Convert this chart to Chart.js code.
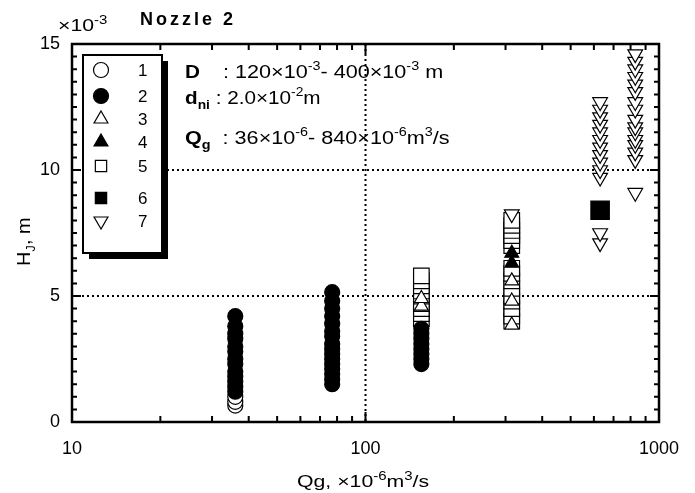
<!DOCTYPE html>
<html lang="en">
<head>
<meta charset="UTF-8">
<title>Nozzle 2 - jet height vs gas flow rate</title>
<script src="https://cdn.jsdelivr.net/npm/chart.js"></script>
<style>
  body { margin: 0; background: #fff; }
  #wrap { width: 695px; height: 493px; }
</style>
</head>
<body>
<div id="wrap"><canvas id="chart" width="695" height="493"></canvas></div>
<script>
// Qg in 1e-6 m3/s, HJ in 1e-3 m, one pair of arrays per legend symbol
const s1Q = [36, 36, 36, 155];
const s1H = [0.65, 0.8, 1.0, 3.85];
const s2Q = [36, 36, 36, 36, 36, 36, 36, 36, 36, 36, 36, 36, 36,
             77, 77, 77, 77, 77, 77, 77, 77, 77, 77, 77, 77, 77, 77, 77, 77,
             155, 155, 155, 155, 155, 155, 155, 155];
const s2H = [1.2, 1.4, 1.6, 1.8, 2.0, 2.3, 2.5, 2.8, 3.0, 3.3, 3.5, 3.8, 4.2,
             1.5, 1.7, 1.9, 2.1, 2.3, 2.5, 2.7, 2.9, 3.1, 3.4, 3.6, 3.9, 4.2, 4.5, 4.8, 5.15,
             2.3, 2.5, 2.7, 2.9, 3.1, 3.3, 3.5, 3.7];
const s3Q = [155, 155, 315, 315, 315];
const s3H = [4.6, 4.9, 3.85, 4.8, 5.6];
const s4Q = [315, 315];
const s4H = [6.3, 6.7];
const s5Q = [155, 155, 155, 155, 155, 155, 155, 155, 155,
             315, 315, 315, 315, 315, 315, 315, 315, 315, 315, 315, 315, 315, 315, 315];
const s5H = [4.1, 4.3, 4.5, 4.7, 5.0, 5.2, 5.4, 5.6, 5.8,
             4.0, 4.2, 4.5, 4.8, 5.0, 5.3, 5.6, 5.9, 6.1, 7.0, 7.2, 7.4, 7.6, 7.8, 8.0];
const s6Q = [630];
const s6H = [8.4];
const s7Q = [315,
             630, 630, 630, 630, 630, 630, 630, 630, 630, 630, 630, 630, 630,
             830, 830, 830, 830, 830, 830, 830, 830, 830, 830, 830, 830, 830, 830, 830, 830];
const s7H = [8.25,
             7.1, 7.5, 9.7, 10.0, 10.3, 10.6, 10.9, 11.2, 11.5, 11.8, 12.1, 12.4, 12.7,
             9.1, 10.4, 10.7, 11.0, 11.2, 11.5, 11.7, 12.0, 12.4, 12.7, 13.1, 13.4, 13.7, 14.0, 14.3, 14.6];

const legendLabels = ['1', '2', '3', '4', '5', '6', '7'];
const xTicks = [10, 100, 1000];
const yTicks = [0, 5, 10, 15];
const gridX = [100];
const gridY = [5, 10];

const FONT = '"Liberation Sans", Arial, sans-serif';

// symbol styles for the seven series
const styles = [
  { pointStyle: 'circle',   fill: '#fff', r: 7.5, rot: 0,   order: 7 },
  { pointStyle: 'circle',   fill: '#000', r: 7.5, rot: 0,   order: 3 },
  { pointStyle: 'triangle', fill: '#fff', r: 8,   rot: 0,   order: 5 },
  { pointStyle: 'triangle', fill: '#000', r: 8,   rot: 0,   order: 1 },
  { pointStyle: 'rect',     fill: '#fff', r: 11,  rot: 0,   order: 6 },
  { pointStyle: 'rect',     fill: '#000', r: 13,  rot: 0,   order: 2 },
  { pointStyle: 'triangle', fill: '#fff', r: 8.5, rot: 180, order: 4 }
];
const seriesQ = [s1Q, s2Q, s3Q, s4Q, s5Q, s6Q, s7Q];
const seriesH = [s1H, s2H, s3H, s4H, s5H, s6H, s7H];

const datasets = legendLabels.map((lab, i) => ({
  label: lab,
  data: seriesQ[i].map((q, j) => ({ x: q, y: seriesH[i][j] })),
  pointStyle: styles[i].pointStyle,
  pointRadius: styles[i].r,
  pointRotation: styles[i].rot,
  pointBackgroundColor: styles[i].fill,
  pointBorderColor: '#000',
  pointBorderWidth: 1.2,
  order: styles[i].order
}));

// text with superscripts / subscripts, sx = horizontal stretch (the scan is wide)
function rich(ctx, x, y, parts, size, sx) {
  sx = sx || 1;
  parts.forEach(([t, k]) => {
    const small = k === 'sup' || k === 'sub' || k === 'bsub';
    const fs = small ? Math.round(size * 0.68) : size;
    const bold = k === 'b' || k === 'bsub';
    ctx.font = (bold ? 'bold ' : '') + fs + 'px ' + FONT;
    const dy = k === 'sup' ? -size * 0.42 : (k === 'sub' || k === 'bsub') ? size * 0.3 : 0;
    ctx.save();
    ctx.translate(x, y + dy);
    ctx.scale(sx, 1);
    ctx.fillText(t, 0, 0);
    ctx.restore();
    x += ctx.measureText(t).width * sx;
  });
}

function marker(ctx, st, x, y) {
  ctx.fillStyle = st.fill;
  ctx.strokeStyle = '#000';
  ctx.lineWidth = 1.2;
  Chart.helpers.drawPoint(ctx, { pointStyle: st.pointStyle, radius: st.r, rotation: st.rot, borderWidth: 1.2 }, x, y);
}

const decorations = {
  id: 'decorations',
  beforeDatasetsDraw(chart) {
    const { ctx, chartArea: a, scales: { x, y } } = chart;
    ctx.save();
    ctx.strokeStyle = '#000';
    ctx.lineWidth = 2;
    ctx.setLineDash([2, 3]);
    gridY.forEach(v => {
      const py = y.getPixelForValue(v);
      ctx.beginPath(); ctx.moveTo(a.left, py); ctx.lineTo(a.right, py); ctx.stroke();
    });
    gridX.forEach(v => {
      const px = x.getPixelForValue(v);
      ctx.beginPath(); ctx.moveTo(px, a.top); ctx.lineTo(px, a.bottom); ctx.stroke();
    });
    ctx.restore();
  },
  afterDatasetsDraw(chart) {
    const { ctx, chartArea: a, scales: { x, y } } = chart;
    ctx.save();
    ctx.strokeStyle = '#000';
    ctx.fillStyle = '#000';

    // frame
    ctx.lineWidth = 2.5;
    ctx.strokeRect(a.left, a.top, a.right - a.left, a.bottom - a.top);

    // inward ticks on y (both sides)
    ctx.lineWidth = 2;
    for (let i = 1; i < 30; i++) {
      const v = i / 2;
      const len = v % 5 === 0 ? 9 : 5;
      const py = y.getPixelForValue(v);
      ctx.beginPath();
      ctx.moveTo(a.left, py); ctx.lineTo(a.left + len, py);
      ctx.moveTo(a.right, py); ctx.lineTo(a.right - len, py);
      ctx.stroke();
    }
    // inward log ticks on x (bottom and top)
    [10, 100].forEach(d => {
      for (let k = 2; k <= 10; k++) {
        const v = k * d;
        if (v >= 1000) continue;
        const len = v === 100 ? 10 : 6;
        const px = x.getPixelForValue(v);
        ctx.beginPath();
        ctx.moveTo(px, a.bottom); ctx.lineTo(px, a.bottom - len);
        ctx.moveTo(px, a.top); ctx.lineTo(px, a.top + len);
        ctx.stroke();
      }
    });

    // legend box with drop shadow
    const lx = 83, ly = 55, lw = 79, lh = 198;
    ctx.fillRect(lx + 6, ly + 6, lw, lh);
    ctx.fillStyle = '#fff';
    ctx.fillRect(lx, ly, lw, lh);
    ctx.lineWidth = 2;
    ctx.strokeRect(lx, ly, lw, lh);
    const rowY = [70, 96, 119, 142, 166, 198, 221];
    legendLabels.forEach((lab, i) => {
      marker(ctx, Object.assign({}, styles[i], { r: Math.min(styles[i].r, 8) }), 101, rowY[i]);
      ctx.fillStyle = '#000';
      ctx.font = '17px ' + FONT;
      ctx.textAlign = 'left';
      ctx.textBaseline = 'middle';
      ctx.fillText(lab, 138, rowY[i] + 1);
    });

    // annotation text
    ctx.textBaseline = 'alphabetic';
    ctx.fillStyle = '#000';
    rich(ctx, 185, 78, [['D', 'b']], 18, 1.15);
    rich(ctx, 223, 78, [[': 120\u00d710', 'n'], ['-3', 'sup'], ['- 400\u00d710', 'n'], ['-3', 'sup'], [' m', 'n']], 18, 1.2);
    rich(ctx, 185, 104, [['d', 'b'], ['ni', 'bsub'], [' : 2.0\u00d710', 'n'], ['-2', 'sup'], ['m', 'n']], 18, 1.15);
    rich(ctx, 185, 144, [['Q', 'b'], ['g', 'bsub'], ['  : 36\u00d710', 'n'], ['-6', 'sup'],
                         ['- 840\u00d710', 'n'], ['-6', 'sup'], ['m', 'n'], ['3', 'sup'], ['/s', 'n']], 18, 1.2);

    // title and exponent
    rich(ctx, 58, 31, [['\u00d710', 'n'], ['-3', 'sup']], 17, 1.25);
    ctx.font = 'bold 18px ' + FONT;
    if ('letterSpacing' in ctx) ctx.letterSpacing = '3px';
    ctx.fillText('Nozzle 2', 140, 25);
    if ('letterSpacing' in ctx) ctx.letterSpacing = '0px';

    // axis titles
    ctx.save();
    ctx.translate(30, 266);
    ctx.rotate(-Math.PI / 2);
    ctx.textAlign = 'left';
    rich(ctx, 0, 0, [['H', 'n'], ['J', 'sub'], [', m', 'n']], 18, 1.1);
    ctx.restore();
    rich(ctx, 297, 487, [['Qg, \u00d710', 'n'], ['-6', 'sup'], ['m', 'n'], ['3', 'sup'], ['/s', 'n']], 17, 1.25);

    ctx.restore();
  }
};

new Chart(document.getElementById('chart'), {
  type: 'scatter',
  data: { datasets: datasets },
  options: {
    responsive: false,
    animation: false,
    devicePixelRatio: 1,
    layout: { padding: { left: 0, right: 36, top: 44, bottom: 0 } },
    plugins: { legend: { display: false }, tooltip: { enabled: false } },
    scales: {
      x: {
        type: 'logarithmic',
        min: 10,
        max: 1000,
        afterBuildTicks: s => { s.ticks = xTicks.map(v => ({ value: v })); },
        afterFit: s => { s.height = 71; },
        grid: { display: false },
        border: { display: false },
        ticks: {
          color: '#000',
          font: { size: 18, family: FONT },
          padding: 8,
          maxRotation: 0,
          autoSkip: false,
          callback: v => String(v)
        }
      },
      y: {
        min: 0,
        max: 15,
        afterBuildTicks: s => { s.ticks = yTicks.map(v => ({ value: v })); },
        afterFit: s => { s.width = 72; },
        grid: { display: false },
        border: { display: false },
        ticks: {
          color: '#000',
          font: { size: 18, family: FONT },
          padding: 4
        }
      }
    }
  },
  plugins: [decorations]
});
</script>
</body>
</html>
